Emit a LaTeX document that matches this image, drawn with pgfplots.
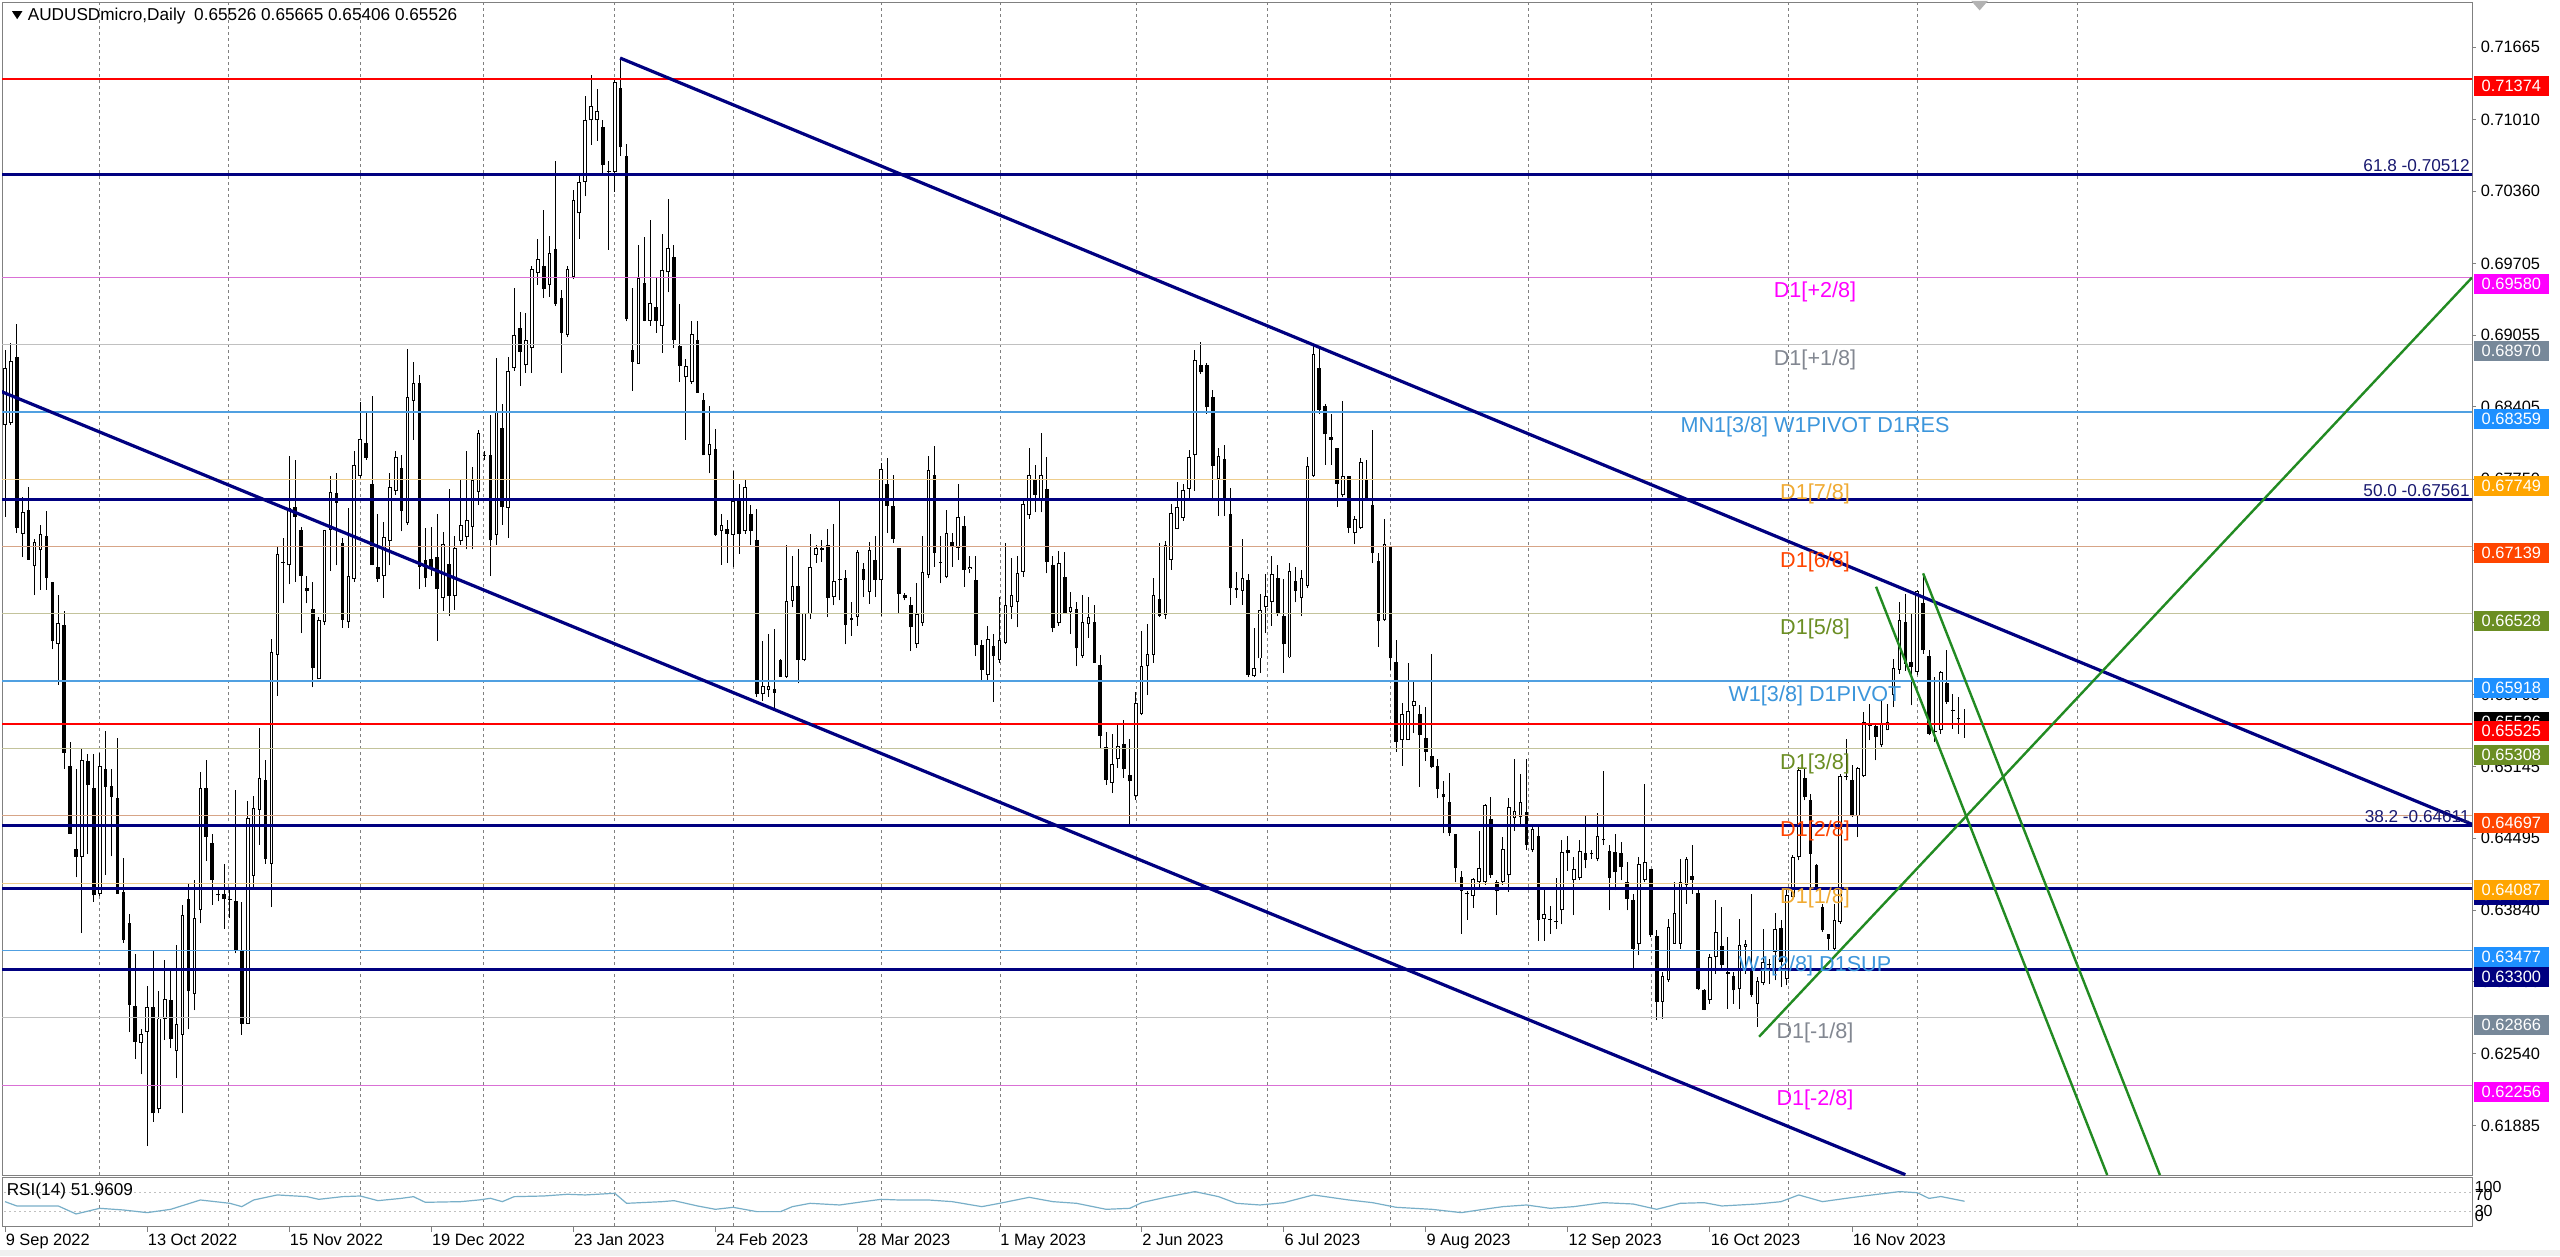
\documentclass[border=0pt]{standalone}
\usepackage{pgfplots}
\pgfplotsset{compat=1.18}
\usepackage{pgfplotstable}
\usepackage{fontspec}
\setmainfont{Liberation Sans}
\newcommand{\fs}[1]{\fontsize{#1}{#1}\selectfont}

\definecolor{mtnavy}{RGB}{0,0,128}
\definecolor{mtred}{RGB}{255,0,0}
\definecolor{mtmag}{RGB}{255,0,255}
\definecolor{mtorchid}{RGB}{218,112,214}
\definecolor{mtslate}{RGB}{119,136,153}
\definecolor{mtsilver}{RGB}{192,192,192}
\definecolor{mtdodger}{RGB}{30,144,255}
\definecolor{mtblueline}{RGB}{80,160,225}
\definecolor{mtbluetext}{RGB}{60,150,220}
\definecolor{mtorange}{RGB}{255,165,0}
\definecolor{mtorangetext}{RGB}{240,170,50}
\definecolor{mttan}{RGB}{238,205,140}
\definecolor{mtorred}{RGB}{255,69,0}
\definecolor{mtsalmon}{RGB}{215,165,135}
\definecolor{mtolive}{RGB}{107,142,35}
\definecolor{mtkhaki}{RGB}{195,195,155}
\definecolor{mtgreen}{RGB}{34,139,34}
\definecolor{mtgraytext}{RGB}{130,135,145}
\definecolor{mtrsi}{RGB}{120,175,200}
\definecolor{mtframe}{RGB}{128,128,128}
\definecolor{mtfib}{RGB}{25,25,112}

% daily candles: bar index, open, high, low, close
\pgfplotstableread{
i o h l c
0 0.68240 0.68920 0.67410 0.68760
1 0.68260 0.68980 0.68240 0.68820
2 0.68860 0.69160 0.67260 0.67310
3 0.67253 0.67583 0.67041 0.67450
4 0.67470 0.67680 0.67020 0.67020
5 0.66958 0.67210 0.66697 0.67179
6 0.67105 0.67337 0.66746 0.67253
7 0.67238 0.67460 0.66746 0.66855
8 0.66820 0.66820 0.66205 0.66279
9 0.66254 0.66697 0.65886 0.66441
10 0.66426 0.66550 0.65122 0.65270
11 0.65147 0.65368 0.64532 0.64532
12 0.64399 0.65122 0.64138 0.64325
13 0.64325 0.65304 0.63633 0.65206
14 0.65196 0.65255 0.64350 0.64975
15 0.64950 0.65255 0.63917 0.63976
16 0.63990 0.65270 0.63966 0.65147
17 0.65117 0.65470 0.64163 0.64960
18 0.64970 0.65120 0.64330 0.64870
19 0.64862 0.65403 0.63991 0.63991
20 0.64006 0.64311 0.63548 0.63573
21 0.63721 0.63809 0.62736 0.62982
22 0.62972 0.63448 0.62490 0.62648
23 0.62638 0.62761 0.62353 0.62722
24 0.62736 0.63155 0.61703 0.62967
25 0.62967 0.63474 0.61924 0.61998
26 0.62036 0.63106 0.61998 0.62859
27 0.62859 0.63386 0.62662 0.63032
28 0.63023 0.63317 0.62589 0.62677
29 0.62564 0.63524 0.62318 0.62810
30 0.62712 0.63892 0.61998 0.63794
31 0.63942 0.64090 0.62761 0.63106
32 0.63081 0.64114 0.62933 0.63770
33 0.63843 0.65098 0.63721 0.64950
34 0.64950 0.65206 0.64286 0.64507
35 0.64449 0.64532 0.63892 0.64114
36 0.63991 0.64020 0.63920 0.63976
37 0.63990 0.64260 0.63671 0.63942
38 0.63942 0.64040 0.63770 0.63932
39 0.63927 0.64930 0.63450 0.63474
40 0.63484 0.63917 0.62712 0.62810
41 0.62810 0.64827 0.62810 0.64680
42 0.64153 0.64876 0.64055 0.64763
43 0.64753 0.65492 0.64434 0.65039
44 0.65024 0.65206 0.64261 0.64301
45 0.64261 0.66303 0.63868 0.66180
46 0.66156 0.67140 0.65787 0.67066
47 0.66992 0.67214 0.66623 0.66997
48 0.66967 0.67961 0.66795 0.67484
49 0.67494 0.67927 0.66820 0.67410
50 0.67287 0.67312 0.66353 0.66869
51 0.66761 0.66869 0.66623 0.66731
52 0.66574 0.66820 0.65861 0.66033
53 0.65934 0.66500 0.65934 0.66475
54 0.66451 0.67287 0.66426 0.67287
55 0.67287 0.67779 0.66918 0.67632
56 0.67622 0.67804 0.66967 0.67533
57 0.67174 0.67214 0.66402 0.66475
58 0.66451 0.67484 0.66402 0.66869
59 0.66844 0.68001 0.66820 0.67878
60 0.67779 0.68453 0.67755 0.68109
61 0.68075 0.68345 0.67927 0.67942
62 0.67706 0.68502 0.66967 0.66967
63 0.66953 0.67435 0.66820 0.66844
64 0.66869 0.67361 0.66672 0.67228
65 0.67189 0.67804 0.66967 0.67681
66 0.67646 0.68001 0.67607 0.67951
67 0.67851 0.67964 0.67275 0.67458
68 0.67348 0.68928 0.67336 0.68490
69 0.68458 0.68814 0.68106 0.68620
70 0.68620 0.68693 0.66749 0.66951
71 0.67012 0.67308 0.66769 0.66850
72 0.67024 0.67316 0.66870 0.66931
73 0.67041 0.67429 0.66283 0.66757
74 0.66668 0.67267 0.66555 0.67162
75 0.66980 0.67660 0.66506 0.66688
76 0.66688 0.67235 0.66567 0.67122
77 0.67186 0.67741 0.67154 0.67336
78 0.67227 0.68005 0.67113 0.67377
79 0.67316 0.67863 0.67113 0.67741
80 0.67632 0.68199 0.67518 0.68166
81 0.67964 0.68000 0.67920 0.67960
82 0.67964 0.68328 0.66870 0.67194
83 0.67243 0.68847 0.67154 0.68369
84 0.68215 0.68430 0.67336 0.67498
85 0.67486 0.68855 0.67215 0.68733
86 0.68754 0.69483 0.68733 0.69057
87 0.69118 0.69260 0.68592 0.68903
88 0.68782 0.69252 0.68713 0.69009
89 0.68936 0.69685 0.68713 0.69657
90 0.69616 0.69928 0.69511 0.69746
91 0.69685 0.70191 0.69390 0.69471
92 0.69511 0.69957 0.69402 0.69795
93 0.69835 0.70629 0.69321 0.69341
94 0.69390 0.69463 0.68713 0.69078
95 0.69057 0.69685 0.69037 0.69657
96 0.69584 0.70374 0.69564 0.70281
97 0.70159 0.70495 0.69928 0.70443
98 0.70443 0.71224 0.70313 0.71001
99 0.71001 0.71415 0.70779 0.71131
100 0.71001 0.71285 0.70819 0.71091
101 0.70941 0.71001 0.70515 0.70596
102 0.70536 0.70637 0.69827 0.70540
103 0.70536 0.71386 0.70353 0.71346
104 0.71293 0.71568 0.70677 0.70758
105 0.70677 0.70791 0.69179 0.69199
106 0.68924 0.69483 0.68551 0.68815
107 0.68794 0.69876 0.68794 0.69576
108 0.69531 0.69948 0.69179 0.69187
109 0.69187 0.70102 0.69138 0.69349
110 0.69309 0.69584 0.69078 0.69187
111 0.69138 0.69969 0.68895 0.69645
112 0.69624 0.70293 0.69442 0.69847
113 0.69766 0.69876 0.68936 0.69009
114 0.68956 0.69341 0.68632 0.68774
115 0.68672 0.68835 0.68106 0.68774
116 0.68632 0.69187 0.68612 0.69065
117 0.69009 0.69187 0.68531 0.68531
118 0.68470 0.68531 0.67964 0.67964
119 0.67964 0.68409 0.67802 0.68065
120 0.68025 0.68207 0.67235 0.67243
121 0.67283 0.67437 0.66972 0.67336
122 0.67296 0.67377 0.66992 0.67255
123 0.67243 0.67822 0.66952 0.67551
124 0.67559 0.67701 0.67073 0.67255
125 0.67275 0.67741 0.67255 0.67680
126 0.67429 0.67518 0.67154 0.67283
127 0.67194 0.67478 0.65777 0.65797
128 0.65797 0.66283 0.65736 0.65878
129 0.65838 0.66344 0.65777 0.65878
130 0.65846 0.66393 0.65655 0.65810
131 0.66109 0.66121 0.65959 0.65959
132 0.65959 0.67154 0.65947 0.66648
133 0.66648 0.67053 0.66587 0.66781
134 0.66781 0.67113 0.65898 0.66109
135 0.66113 0.66533 0.66098 0.66533
136 0.66527 0.67248 0.66481 0.66956
137 0.67064 0.67156 0.66987 0.67125
138 0.67110 0.67200 0.67000 0.67125
139 0.67156 0.67300 0.66497 0.66674
140 0.66680 0.67340 0.66604 0.66828
141 0.66840 0.67569 0.66650 0.66847
142 0.66849 0.66926 0.66251 0.66429
143 0.66490 0.66634 0.66328 0.66475
144 0.66497 0.67110 0.66420 0.67085
145 0.66935 0.66987 0.66680 0.66834
146 0.66726 0.67177 0.66619 0.67103
147 0.67018 0.67232 0.66680 0.66834
148 0.66834 0.67891 0.66512 0.67845
149 0.67707 0.67937 0.67263 0.67508
150 0.67502 0.67790 0.67171 0.67208
151 0.67125 0.67125 0.66527 0.66711
152 0.66696 0.66720 0.66650 0.66674
153 0.66604 0.66680 0.66190 0.66405
154 0.66251 0.66803 0.66221 0.66527
155 0.66441 0.67232 0.66420 0.66910
156 0.66880 0.67962 0.66849 0.67830
157 0.67790 0.68054 0.66956 0.67079
158 0.66990 0.67232 0.66803 0.66995
159 0.66858 0.67471 0.66849 0.67257
160 0.67177 0.67263 0.66956 0.67134
161 0.67125 0.67707 0.67018 0.67407
162 0.67324 0.67416 0.66772 0.66926
163 0.66935 0.67048 0.66895 0.66956
164 0.66834 0.67048 0.66144 0.66245
165 0.66245 0.66288 0.65914 0.66021
166 0.65975 0.66420 0.65914 0.66297
167 0.66236 0.66343 0.65730 0.66144
168 0.66113 0.66680 0.66083 0.66288
169 0.66267 0.67171 0.66251 0.66604
170 0.66589 0.67033 0.66481 0.66702
171 0.66634 0.67048 0.66405 0.66901
172 0.66910 0.67554 0.66864 0.67523
173 0.67422 0.68029 0.67392 0.67790
174 0.67738 0.67876 0.67447 0.67606
175 0.67554 0.68167 0.67447 0.67784
176 0.67661 0.67952 0.66895 0.67002
177 0.66972 0.67048 0.66359 0.66398
178 0.66441 0.67094 0.66420 0.66993
179 0.66858 0.67085 0.66527 0.66533
180 0.66543 0.66726 0.66343 0.66589
181 0.66573 0.66634 0.66052 0.66215
182 0.66144 0.66696 0.66129 0.66451
183 0.66435 0.66680 0.66313 0.66497
184 0.66451 0.66604 0.66083 0.66083
185 0.66068 0.66159 0.65301 0.65424
186 0.65317 0.65454 0.64979 0.65025
187 0.64995 0.65439 0.64903 0.65163
188 0.65209 0.65531 0.65133 0.65332
189 0.65347 0.65562 0.65041 0.65117
190 0.65071 0.65393 0.64596 0.65010
191 0.64872 0.65822 0.64841 0.65715
192 0.65623 0.66374 0.65608 0.66052
193 0.66052 0.66435 0.65792 0.66166
194 0.66159 0.66849 0.66083 0.66696
195 0.66665 0.67171 0.66497 0.66512
196 0.66521 0.67186 0.66481 0.67156
197 0.67018 0.67523 0.66926 0.67441
198 0.67300 0.67723 0.67293 0.67493
199 0.67401 0.67707 0.67370 0.67655
200 0.67661 0.68014 0.67569 0.67952
201 0.67968 0.68924 0.67646 0.68826
202 0.68780 0.68995 0.68703 0.68719
203 0.68788 0.68800 0.68344 0.68400
204 0.68492 0.68555 0.67561 0.67866
205 0.67752 0.68027 0.67413 0.67955
206 0.67929 0.68061 0.67413 0.67570
207 0.67434 0.67667 0.66610 0.66758
208 0.66766 0.66906 0.66673 0.66741
209 0.66737 0.67202 0.66610 0.66851
210 0.66834 0.66885 0.65954 0.65975
211 0.65962 0.66398 0.65954 0.66039
212 0.66123 0.66707 0.65996 0.66567
213 0.66589 0.66885 0.66356 0.66694
214 0.66639 0.67054 0.66419 0.66893
215 0.66851 0.66969 0.66504 0.66538
216 0.66512 0.66842 0.65996 0.66250
217 0.66132 0.66990 0.66123 0.66914
218 0.66830 0.66948 0.66631 0.66737
219 0.66673 0.66927 0.66504 0.66855
220 0.66779 0.67951 0.66758 0.67866
221 0.67781 0.68957 0.67773 0.68881
222 0.68754 0.68936 0.68344 0.68374
223 0.68416 0.68429 0.67879 0.68154
224 0.68133 0.68344 0.67879 0.68103
225 0.68027 0.68027 0.67498 0.67709
226 0.67604 0.68458 0.67583 0.67781
227 0.67781 0.67781 0.67265 0.67308
228 0.67265 0.67413 0.67160 0.67392
229 0.67308 0.67942 0.67299 0.67908
230 0.67752 0.67921 0.67561 0.67561
231 0.67519 0.68196 0.66990 0.67075
232 0.67003 0.67075 0.66229 0.66462
233 0.66470 0.67392 0.66462 0.67160
234 0.67139 0.67147 0.66017 0.66123
235 0.66089 0.66292 0.65277 0.65370
236 0.65383 0.65721 0.65150 0.65616
237 0.65383 0.66081 0.65383 0.65649
238 0.65692 0.65920 0.65446 0.65734
239 0.65624 0.65700 0.64960 0.65425
240 0.65404 0.65679 0.65193 0.65277
241 0.65243 0.66165 0.65129 0.65142
242 0.65150 0.65214 0.64854 0.64939
243 0.64897 0.65011 0.64537 0.64863
244 0.64820 0.65087 0.64516 0.64537
245 0.64529 0.64529 0.64093 0.64228
246 0.64144 0.64199 0.63628 0.64017
247 0.63987 0.64017 0.63755 0.63990
248 0.63974 0.64135 0.63860 0.64127
249 0.64093 0.64558 0.64029 0.64220
250 0.64093 0.64804 0.64072 0.64791
251 0.64664 0.64863 0.64135 0.64156
252 0.64101 0.64114 0.63797 0.64017
253 0.64093 0.64507 0.64072 0.64397
254 0.64156 0.64854 0.64008 0.64778
255 0.64677 0.65214 0.64558 0.64736
256 0.64685 0.65074 0.64622 0.64820
257 0.64727 0.65214 0.64389 0.64431
258 0.64389 0.64622 0.64368 0.64579
259 0.64516 0.64622 0.63564 0.63755
260 0.63763 0.64029 0.63564 0.63805
261 0.63755 0.63881 0.63628 0.63760
262 0.63738 0.64135 0.63670 0.63733
263 0.63839 0.64474 0.63712 0.64368
264 0.64389 0.64516 0.64199 0.64355
265 0.64114 0.64326 0.63797 0.64211
266 0.64135 0.64474 0.64114 0.64381
267 0.64355 0.64706 0.64220 0.64296
268 0.64355 0.64389 0.64305 0.64350
269 0.64304 0.64719 0.64283 0.64516
270 0.64474 0.65100 0.64431 0.64478
271 0.64381 0.64431 0.63839 0.64135
272 0.64368 0.64534 0.64021 0.64187
273 0.64359 0.64459 0.64111 0.64232
274 0.64096 0.64277 0.63839 0.63945
275 0.63930 0.63990 0.63311 0.63492
276 0.63537 0.64323 0.63431 0.64256
277 0.64111 0.64987 0.64096 0.64277
278 0.64217 0.64217 0.63598 0.63613
279 0.63604 0.63658 0.62842 0.63009
280 0.63009 0.63280 0.62857 0.63241
281 0.63205 0.63764 0.63190 0.63688
282 0.63537 0.64096 0.63537 0.63815
283 0.63537 0.64308 0.63492 0.64096
284 0.64066 0.64323 0.63900 0.64308
285 0.64147 0.64428 0.63990 0.64117
286 0.63996 0.64020 0.63114 0.63129
287 0.63120 0.63129 0.62933 0.62939
288 0.63024 0.63447 0.62993 0.63416
289 0.63416 0.63930 0.63265 0.63643
290 0.63513 0.63869 0.63311 0.63341
291 0.63280 0.63598 0.62948 0.63265
292 0.63241 0.63280 0.62993 0.63114
293 0.63129 0.63764 0.62948 0.63522
294 0.63507 0.63567 0.63265 0.63537
295 0.63296 0.63990 0.63054 0.63069
296 0.62993 0.63235 0.62782 0.63199
297 0.63181 0.63673 0.63160 0.63371
298 0.63341 0.63401 0.63175 0.63345
299 0.63462 0.63815 0.63205 0.63673
300 0.63682 0.63749 0.63144 0.63371
301 0.63220 0.64051 0.63160 0.63975
302 0.63960 0.64338 0.63960 0.64323
303 0.64323 0.65138 0.64292 0.65114
304 0.65042 0.65123 0.64836 0.64866
305 0.64836 0.64897 0.64036 0.64353
306 0.64247 0.64262 0.64021 0.64036
307 0.63869 0.63900 0.63643 0.63658
308 0.63622 0.63628 0.63477 0.63583
309 0.63492 0.63900 0.63477 0.63749
310 0.63734 0.65078 0.63719 0.65054
311 0.65054 0.65395 0.65018 0.65060
312 0.65018 0.65153 0.64685 0.64691
313 0.64691 0.65138 0.64504 0.65132
314 0.65054 0.65637 0.65048 0.65546
315 0.65516 0.65712 0.65380 0.65520
316 0.65510 0.65516 0.65199 0.65410
317 0.65335 0.65743 0.65320 0.65540
318 0.65471 0.65712 0.65471 0.65546
319 0.65788 0.66120 0.65682 0.66039
320 0.66021 0.66634 0.65984 0.66474
321 0.66452 0.66709 0.66014 0.66075
322 0.66090 0.66528 0.65697 0.66045
323 0.65999 0.66746 0.65969 0.66733
324 0.66625 0.66891 0.66165 0.66196
325 0.66150 0.66196 0.65425 0.65440
326 0.65456 0.65954 0.65365 0.65460
327 0.65471 0.66014 0.65440 0.65999
328 0.65900 0.66196 0.65712 0.65727
329 0.65652 0.65803 0.65486 0.65648
330 0.65576 0.65773 0.65440 0.65572
331 0.65526 0.65665 0.65406 0.65526
}\candles

% RSI(14)
\pgfplotstableread{
i r
0 51.2
2 42.1
9 42.1
12 25.3
16 37.2
20 33.7
24 28.1
28 35.1
33 54.7
38 47.7
40 40.7
42 54.7
46 65.3
51 61.7
53 56.1
57 61.7
60 63.1
63 53.3
67 58.2
69 61.7
71 49.8
77 51.2
80 54.7
82 58.2
84 51.2
86 61.7
91 63.1
95 66.7
98 65.3
103 68.8
105 47.7
111 51.2
113 53.3
117 42.1
120 35.1
123 39.3
127 30.2
131 30.2
133 40.7
136 47.7
141 44.2
145 51.2
148 56.1
151 54.7
156 54.7
160 51.2
165 40.7
168 47.7
173 60.3
177 51.2
181 47.7
186 35.1
190 37.2
192 49.1
196 60.3
201 72.3
205 61.7
208 47.7
212 44.2
216 49.1
221 65.3
227 54.7
231 49.1
235 39.3
241 35.1
246 28.1
249 33.7
253 40.7
257 44.2
261 37.2
265 40.7
270 49.1
275 46.3
279 35.1
283 47.7
287 49.1
290 42.1
296 46.3
300 51.2
303 65.3
307 51.2
311 58.2
314 63.1
320 72.3
323 70.0
325 58.0
327 62.0
331 52.0
}\rsi

\newcommand{\lvltext}[3]{\node[anchor=base, text=#2, font=\fs{5.4}, inner sep=0pt, yshift=-5.2pt] at (axis cs:305.74,#1) {#3};}
\newcommand{\fibtext}[2]{\node[anchor=base east, text=mtfib, font=\fs{4.3}, inner sep=0pt, xshift=-0.4pt, yshift=0.8pt] at (axis cs:416.72,#1) {#2};}
\newcommand{\pbox}[3]{\node[anchor=north west, fill=#2, text=white, font=\fs{4.1}, inner sep=0pt, minimum width=18.75pt, minimum height=5pt, xshift=0.25pt, yshift=#3] at (axis cs:416.72,#1) {#1};}

\begin{document}
\begin{tikzpicture}
\useasboundingbox (0pt,0pt) rectangle (640pt,314pt);
\fill[white] (0pt,0pt) rectangle (640pt,314pt);
\fill[black!6] (0pt,0pt) rectangle (640pt,1.5pt);

% ---------------- price panel ----------------
\begin{axis}[
  at={(0.5pt,20.25pt)}, anchor=south west, scale only axis,
  width=617.5pt, height=293.25pt,
  xmin=-0.507, xmax=416.72, ymin=0.61440, ymax=0.72075,
  clip mode=individual,
  axis line style={mtframe, line width=0.25pt},
  xtick=\empty,
  extra x ticks={15.9,37.8,60.0,80.9,102.9,123.0,148.0,168.1,191.2,213.2,234.1,257.3,278.2,301.2,323.1,350.0},
  extra x tick labels={},
  extra x tick style={grid=major, major tick length=0pt},
  major grid style={mtframe, line width=0.25pt, dash pattern=on 0.75pt off 0.75pt},
  ytick={0.71665,0.71010,0.70360,0.69705,0.69055,0.68405,0.67750,0.67100,0.66450,0.65795,0.65145,0.64495,0.63840,0.63190,0.62540,0.61885},
  yticklabels={0.71665,0.71010,0.70360,0.69705,0.69055,0.68405,0.67750,0.67100,0.66450,0.65795,0.65145,0.64495,0.63840,0.63190,0.62540,0.61885},
  ytick pos=right, yticklabel pos=right,
  tick align=outside, major tick length=1pt,
  tick style={mtframe, line width=0.25pt},
  yticklabel style={font=\fs{4.1}, inner sep=0pt, xshift=1pt, text=black},
]
% wicks
\addplot[draw=none, mark=none, forget plot,
  error bars/.cd, y dir=plus, y explicit, error mark=none,
  error bar style={draw=black, line width=0.25pt}]
  table[x=i, y=l, y error plus expr={\thisrow{h}-\thisrow{l}}] {\candles};
% bodies
\addplot[draw=none, mark=none, forget plot,
  error bars/.cd, y dir=plus, y explicit, error mark=none,
  error bar style={draw=black, line width=0.9pt}]
  table[x=i, y expr={min(\thisrow{o},\thisrow{c})},
        y error plus expr={max(abs(\thisrow{c}-\thisrow{o}),0.00008)}] {\candles};
% hollow up candles
\addplot[draw=none, mark=none, forget plot,
  error bars/.cd, y dir=plus, y explicit, error mark=none,
  error bar style={draw=white, line width=0.4pt}]
  table[x=i, y expr={\thisrow{o}+0.00009},
        y error plus expr={max(\thisrow{c}-\thisrow{o}-0.00018,0)}] {\candles};

% horizontal levels
\addplot[mtred, line width=0.5pt] coordinates {(-1,0.71374) (420,0.71374)};
\addplot[mtnavy, line width=0.75pt] coordinates {(-1,0.70512) (420,0.70512)};
\addplot[mtorchid, line width=0.25pt] coordinates {(-1,0.69580) (420,0.69580)};
\addplot[mtsilver, line width=0.3pt] coordinates {(-1,0.68970) (420,0.68970)};
\addplot[mtblueline, line width=0.35pt] coordinates {(-1,0.68359) (420,0.68359)};
\addplot[mttan, line width=0.25pt] coordinates {(-1,0.67749) (420,0.67749)};
\addplot[mtnavy, line width=0.75pt] coordinates {(-1,0.67561) (420,0.67561)};
\addplot[mtsalmon, line width=0.25pt] coordinates {(-1,0.67139) (420,0.67139)};
\addplot[mtkhaki, line width=0.25pt] coordinates {(-1,0.66528) (420,0.66528)};
\addplot[mtblueline, line width=0.35pt] coordinates {(-1,0.65918) (420,0.65918)};
\addplot[mtred, line width=0.5pt] coordinates {(-1,0.65525) (420,0.65525)};
\addplot[mtkhaki, line width=0.25pt] coordinates {(-1,0.65308) (420,0.65308)};
\addplot[mtsalmon, line width=0.25pt] coordinates {(-1,0.64697) (420,0.64697)};
\addplot[mtnavy, line width=0.75pt] coordinates {(-1,0.64611) (420,0.64611)};
\addplot[mttan, line width=0.25pt] coordinates {(-1,0.64087) (420,0.64087)};
\addplot[mtnavy, line width=0.75pt] coordinates {(-1,0.64040) (420,0.64040)};
\addplot[mtblueline, line width=0.35pt] coordinates {(-1,0.63477) (420,0.63477)};
\addplot[mtnavy, line width=0.75pt] coordinates {(-1,0.63300) (420,0.63300)};
\addplot[mtsilver, line width=0.3pt] coordinates {(-1,0.62866) (420,0.62866)};
\addplot[mtorchid, line width=0.25pt] coordinates {(-1,0.62256) (420,0.62256)};

% channel and trend lines
\addplot[mtnavy, line width=0.8pt] coordinates {(103.9,0.71567) (416.72,0.64620)};
\addplot[mtnavy, line width=0.8pt] coordinates {(-0.84,0.68548) (321,0.61443)};
\addplot[mtgreen, line width=0.6pt] coordinates {(296.3,0.62694) (416.72,0.69577)};
\addplot[mtgreen, line width=0.6pt] coordinates {(316.05,0.66774) (355.1,0.61440)};
\addplot[mtgreen, line width=0.6pt] coordinates {(324.0,0.66895) (364.0,0.61440)};

% level captions
\lvltext{0.69580}{mtmag}{D1[+2/8]}
\lvltext{0.68970}{mtgraytext}{D1[+1/8]}
\lvltext{0.68359}{mtbluetext}{MN1[3/8] W1PIVOT D1RES}
\lvltext{0.67749}{mtorangetext}{D1[7/8]}
\lvltext{0.67139}{mtorred}{D1[6/8]}
\lvltext{0.66528}{mtolive}{D1[5/8]}
\lvltext{0.65918}{mtbluetext}{W1[3/8] D1PIVOT}
\lvltext{0.65308}{mtolive}{D1[3/8]}
\lvltext{0.64697}{mtorred}{D1[2/8]}
\lvltext{0.64087}{mtorangetext}{D1[1/8]}
\lvltext{0.63477}{mtbluetext}{W1[2/8] D1SUP}
\lvltext{0.62866}{mtgraytext}{D1[-1/8]}
\lvltext{0.62256}{mtmag}{D1[-2/8]}
\fibtext{0.70512}{61.8 -0.70512}
\fibtext{0.67561}{50.0 -0.67561}
\fibtext{0.64611}{38.2 -0.64611}
\end{axis}

% price boxes on top of the scale
\begin{axis}[
  at={(0.5pt,20.25pt)}, anchor=south west, scale only axis,
  width=617.5pt, height=293.25pt,
  xmin=-0.507, xmax=416.72, ymin=0.61440, ymax=0.72075,
  hide axis, clip=false,
]
\pbox{0.71374}{mtred}{1pt}
\pbox{0.69580}{mtmag}{1pt}
\pbox{0.68970}{mtslate}{1pt}
\pbox{0.68359}{mtdodger}{1pt}
\pbox{0.67749}{mtorange}{1pt}
\pbox{0.67139}{mtorred}{1pt}
\pbox{0.66528}{mtolive}{1pt}
\pbox{0.65918}{mtdodger}{1pt}
\pbox{0.65526}{black}{3.2pt}
\pbox{0.65525}{mtred}{1pt}
\pbox{0.65308}{mtolive}{1pt}
\pbox{0.64697}{mtorred}{1pt}
\pbox{0.64040}{mtnavy}{1pt}
\pbox{0.64087}{mtorange}{1pt}
\pbox{0.63477}{mtdodger}{1pt}
\pbox{0.63300}{mtnavy}{1pt}
\pbox{0.62866}{mtslate}{1pt}
\pbox{0.62256}{mtmag}{1pt}
\end{axis}

% ---------------- RSI panel ----------------
\begin{axis}[
  at={(0.5pt,7.5pt)}, anchor=south west, scale only axis,
  width=617.5pt, height=12.25pt,
  xmin=-0.507, xmax=416.72, ymin=0, ymax=103,
  clip mode=individual,
  axis line style={mtframe, line width=0.25pt},
  ytick=\empty,
  xtick={0,24,48,72,96,120,144,168,192,216,240,264,288,312},
  xticklabels={9 Sep 2022,13 Oct 2022,15 Nov 2022,19 Dec 2022,23 Jan 2023,24 Feb 2023,28 Mar 2023,1 May 2023,2 Jun 2023,6 Jul 2023,9 Aug 2023,12 Sep 2023,16 Oct 2023,16 Nov 2023},
  xtick pos=bottom, tick align=outside, major tick length=1.5pt,
  tick style={mtframe, line width=0.25pt},
  xticklabel style={font=\fs{4.1}, anchor=north west, inner sep=0pt, yshift=-0.3pt, text=black},
  extra x ticks={15.9,37.8,60.0,80.9,102.9,123.0,148.0,168.1,191.2,213.2,234.1,257.3,278.2,301.2,323.1,350.0},
  extra x tick labels={},
  extra x tick style={grid=major, major tick length=0pt},
  major grid style={mtframe, line width=0.25pt, dash pattern=on 0.75pt off 0.75pt},
]
\addplot[mtsilver, line width=0.25pt, dash pattern=on 0.5pt off 0.75pt] coordinates {(-1,70) (420,70)};
\addplot[mtsilver, line width=0.25pt, dash pattern=on 0.5pt off 0.75pt] coordinates {(-1,30) (420,30)};
\addplot[mtrsi, line width=0.3pt] table[x=i, y=r] {\rsi};
\node[anchor=north west, font=\fs{4.3}, inner sep=0pt] at (rel axis cs:0,1) [xshift=1pt, yshift=-1.3pt] {RSI(14) 51.9609};
\end{axis}
\draw[mtframe, line width=0.25pt] (0.5pt,19.75pt) -- (618pt,19.75pt);
\node[anchor=west, font=\fs{4}, inner sep=0pt] at (618.5pt,17.2pt) {100};
\node[anchor=west, font=\fs{4}, inner sep=0pt] at (618.5pt,15.2pt) {70};
\node[anchor=west, font=\fs{4}, inner sep=0pt] at (618.5pt,11.2pt) {30};
\node[anchor=west, font=\fs{4}, inner sep=0pt] at (618.5pt,9.9pt) {0};

% header
\fill[black] (3pt,311.2pt) -- (5.6pt,311.2pt) -- (4.3pt,309.2pt) -- cycle;
\node[anchor=west, font=\fs{4.3}, inner sep=0pt] at (6.75pt,309.9pt) {AUDUSDmicro,Daily\hspace{2.2pt}0.65526 0.65665 0.65406 0.65526};
\fill[black!30] (492.8pt,313.8pt) -- (497pt,313.8pt) -- (494.9pt,311.4pt) -- cycle;
\end{tikzpicture}
\end{document}
